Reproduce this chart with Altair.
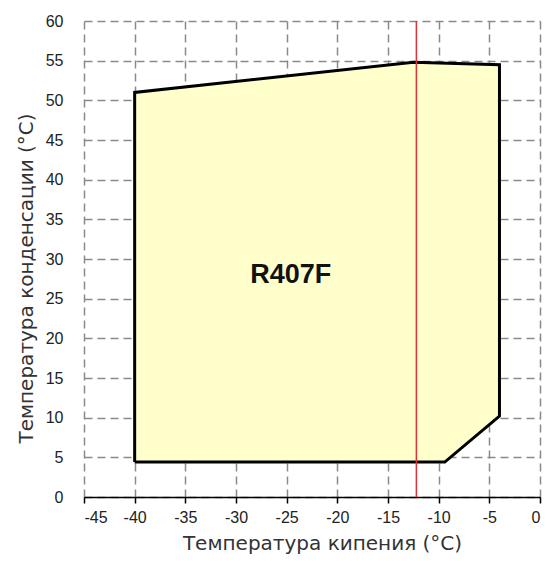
import altair as alt
import pandas as pd

# Polygon of the operating envelope (evaporating temp, condensing temp)
poly_x = [-40, -40, -12.5, -4, -4, -9.4, -40]
poly_y = [4.4, 51.0, 54.8, 54.5, 10.2, 4.4, 4.4]
poly_order = list(range(len(poly_x)))

red_x = [-12.2]
red_y0 = [0]
red_y1 = [60]

label_text = ["R407F"]
label_x = [-24.6]
label_y = [28.0]

x_ticks = list(range(-45, 1, 5))
y_ticks = list(range(0, 61, 5))

poly_df = pd.DataFrame({"x": poly_x, "y": poly_y, "o": poly_order})
red_df = pd.DataFrame({"x": red_x, "y": red_y0, "y2": red_y1})
lab_df = pd.DataFrame({"x": label_x, "y": label_y, "t": label_text})

xscale = alt.Scale(domain=[-45, 0], nice=False, zero=False)
yscale = alt.Scale(domain=[0, 60], nice=False, zero=False)

xaxis = alt.Axis(
    title="Температура кипения (°C)",
    values=x_ticks,
    labelExpr="toString(datum.value)",
    grid=True,
    gridColor="#8a8a8a",
    gridDash=[8, 5],
    gridWidth=1.5,
    domain=True,
    domainColor="#000000",
    domainWidth=1.5,
    ticks=True,
    tickColor="#000000",
    tickWidth=1.5,
    tickSize=6,
    labelFont="Liberation Sans",
    labelFontSize=16,
    labelColor="#222222",
    labelPadding=6,
    titleFont="DejaVu Sans",
    titleFontSize=20,
    titleFontWeight="normal",
    titleColor="#333333",
    titlePadding=8,
    titleX=238,
)
yaxis = alt.Axis(
    title="Температура конденсации (°C)",
    values=y_ticks,
    labelExpr="toString(datum.value)",
    grid=True,
    gridColor="#8a8a8a",
    gridDash=[8, 5],
    gridWidth=1.5,
    domain=False,
    ticks=False,
    labelFont="Liberation Sans",
    labelFontSize=16,
    labelColor="#222222",
    labelPadding=21,
    titleFont="DejaVu Sans",
    titleFontSize=20,
    titleFontWeight="normal",
    titleColor="#333333",
    titlePadding=9,
    titleY=257,
)

poly = alt.Chart(poly_df).mark_line(
    fill="#ffffcc", stroke="#000000", strokeWidth=3, strokeJoin="miter"
).encode(
    x=alt.X("x:Q", scale=xscale, axis=xaxis),
    y=alt.Y("y:Q", scale=yscale, axis=yaxis),
    order="o:Q",
)

red = alt.Chart(red_df).mark_rule(color="#e03333", strokeWidth=1.5).encode(
    x=alt.X("x:Q", scale=xscale, axis=xaxis),
    y=alt.Y("y:Q", scale=yscale, axis=yaxis),
    y2="y2:Q",
)

lab = alt.Chart(lab_df).mark_text(
    font="Liberation Sans", fontSize=27, fontWeight="bold", color="#111111",
    align="center", baseline="middle"
).encode(
    x=alt.X("x:Q", scale=xscale, axis=xaxis),
    y=alt.Y("y:Q", scale=yscale, axis=yaxis),
    text="t:N",
)

chart = alt.layer(poly, red, lab).properties(
    width=456,
    height=476,
    autosize=alt.AutoSizeParams(type="none"),
    padding={"left": 76, "top": 13, "right": 2, "bottom": 62},
    background="#ffffff",
).configure_view(strokeWidth=0)

chart.save("out.html", embed_options={"renderer": "svg", "actions": False})
